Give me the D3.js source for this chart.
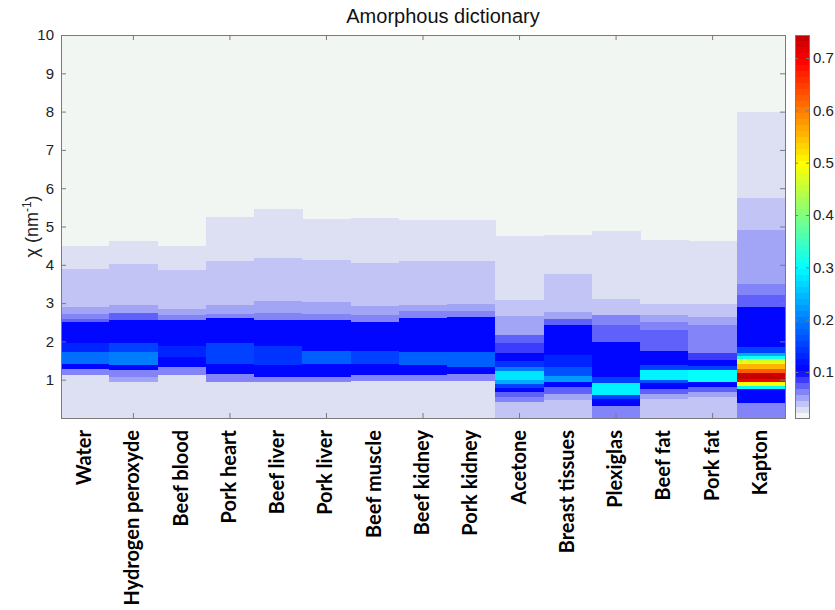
<!DOCTYPE html>
<html><head><meta charset="utf-8">
<script src="https://cdn.jsdelivr.net/npm/d3@7"></script>
<style>body{margin:0;background:#fff} svg{display:block}</style>
</head><body><svg id="c" width="835" height="610"></svg>
<script>
// ---------------- data ----------------
const materials = ["Water","Hydrogen peroxyde","Beef blood","Pork heart","Beef liver","Pork liver","Beef muscle","Beef kidney","Pork kidney","Acetone","Breast tissues","Plexiglas","Beef fat","Pork fat","Kapton"];
// band edges in chi (nm^-1), from 0 up to top of data, per material
const bandEdges = [
  [0,1.13,1.30,1.43,1.74,1.96,2.52,2.61,2.74,2.90,3.91,4.48],
  [0,0.95,1.09,1.26,1.39,1.74,1.96,2.56,2.76,2.97,4.04,4.63],
  [0,1.13,1.35,1.60,1.90,2.56,2.69,2.87,3.87,4.49],
  [0,0.95,1.17,1.43,1.96,2.63,2.74,2.97,4.10,5.26],
  [0,0.95,1.09,1.40,1.90,2.56,2.76,3.06,4.19,5.45],
  [0,0.95,1.09,1.43,1.77,2.56,2.74,3.04,4.13,5.19],
  [0,0.99,1.13,1.43,1.77,2.52,2.69,2.93,4.07,5.22],
  [0,0.99,1.13,1.39,1.74,2.63,2.80,2.97,4.11,5.17],
  [0,0.99,1.17,1.35,1.74,2.65,2.80,3.00,4.10,5.16],
  [0,0.42,0.56,0.69,0.80,0.91,1.00,1.25,1.35,1.50,1.70,1.96,2.19,2.67,3.09,4.74],
  [0,0.47,0.65,0.82,0.95,1.10,1.35,1.65,2.43,2.60,2.78,3.76,4.78],
  [0,0.33,0.50,0.61,0.92,1.09,2.00,2.43,2.69,3.13,4.87],
  [0,0.50,0.65,0.78,0.92,1.00,1.26,1.40,1.76,2.32,2.52,2.69,3.00,4.65],
  [0,0.56,0.69,0.82,0.95,1.26,1.38,1.52,1.71,2.43,2.65,3.00,4.62],
  [0,0.40,0.77,0.84,0.95,1.02,1.18,1.30,1.42,1.56,1.62,1.72,1.87,2.91,3.23,3.50,4.93,5.77,7.98]
];
// intensity of each band (between consecutive edges)
const bandValues = [
  [0.029,0.064,0.105,0.19,0.13,0.105,0.08,0.068,0.055,0.041,0.029],
  [0.029,0.052,0.064,0.105,0.20,0.15,0.105,0.07,0.052,0.041,0.029],
  [0.029,0.064,0.105,0.13,0.105,0.068,0.055,0.041,0.029],
  [0.029,0.064,0.105,0.16,0.105,0.068,0.055,0.041,0.029],
  [0.029,0.064,0.105,0.14,0.105,0.068,0.055,0.041,0.029],
  [0.029,0.064,0.105,0.18,0.105,0.068,0.055,0.041,0.029],
  [0.029,0.064,0.105,0.15,0.105,0.068,0.055,0.041,0.029],
  [0.029,0.064,0.105,0.18,0.105,0.068,0.055,0.041,0.029],
  [0.029,0.064,0.105,0.18,0.105,0.068,0.055,0.041,0.029],
  [0.041,0.064,0.08,0.105,0.15,0.24,0.28,0.20,0.14,0.105,0.086,0.075,0.052,0.041,0.029],
  [0.041,0.052,0.075,0.105,0.22,0.17,0.13,0.105,0.075,0.052,0.041,0.029],
  [0.06,0.105,0.16,0.29,0.15,0.105,0.075,0.06,0.041,0.029],
  [0.041,0.052,0.075,0.105,0.17,0.29,0.15,0.11,0.075,0.064,0.052,0.041,0.029],
  [0.041,0.052,0.075,0.105,0.30,0.15,0.105,0.086,0.064,0.052,0.041,0.029],
  [0.064,0.105,0.30,0.50,0.70,0.744,0.62,0.55,0.48,0.32,0.24,0.16,0.105,0.075,0.064,0.052,0.041,0.029]
];
const yTicks = [1,2,3,4,5,6,7,8,9,10];
const colorTicks = [0.1,0.2,0.3,0.4,0.5,0.6,0.7];
const colorDomain = [0.012, 0.744];
const chartTitle = "Amorphous dictionary";

// ---------------- layout ----------------
const svg = d3.select("#c");
const L = 61, R = 785, T = 35, B = 418;
const x = d3.scaleBand().domain(materials).range([L, R]).padding(0);
const y = d3.scaleLinear().domain([0, 10]).range([B, T]);

// colormap: white->blue for the lowest part, then jet
const NC = 64;
const [cmin, cmax] = colorDomain;
const jet = d3.scaleLinear().domain([0.1,0.2,0.3,0.4,0.5,0.6,0.7,0.8])
  .range(["#0000ff","#0080ff","#00ffff","#80ff80","#ffff00","#ff8000","#ff0000","#800000"]).clamp(true);
const lowInterp = d3.interpolateRgb("rgb(242,246,242)", "#0000ff");
function contColor(v) {
  if (v < 0.1) { const t = Math.pow(Math.max(0, (v - cmin) / (0.1 - cmin)), 1.2); return lowInterp(t); }
  return jet(v);
}
const palette = d3.range(NC).map(k => contColor(cmin + k * (cmax - cmin) / (NC - 1)));
function colorOf(v) {
  let k = Math.floor((v - cmin) / (cmax - cmin) * NC);
  k = Math.max(0, Math.min(NC - 1, k));
  return palette[k];
}

// background = lowest colour
svg.append("rect").attr("x", L).attr("y", T).attr("width", R - L).attr("height", B - T).attr("fill", palette[0]);

// bands
const cells = [];
materials.forEach((m, i) => {
  const e = bandEdges[i], v = bandValues[i];
  for (let j = 0; j < v.length; j++) cells.push({m, y0: e[j], y1: e[j + 1], v: v[j]});
});
svg.append("g").attr("shape-rendering", "crispEdges").selectAll("rect").data(cells).join("rect")
  .attr("x", d => x(d.m)).attr("width", x.bandwidth() + 0.5)
  .attr("y", d => y(d.y1)).attr("height", d => y(d.y0) - y(d.y1) + 0.5)
  .attr("fill", d => colorOf(d.v));

// axes
const axisColor = "#7a7a7a";
const tickFont = "Liberation Sans, Arial, sans-serif";
const oddTicks = materials.filter((d, i) => i % 2 === 1);
function styleAxis(g) {
  g.select(".domain").remove();
  g.selectAll(".tick line").attr("stroke", axisColor);
  g.selectAll("text").attr("font-family", tickFont).attr("font-size", 15).attr("fill", "#222");
}
svg.append("g").attr("transform", `translate(${L},0)`)
  .call(d3.axisLeft(y).tickValues(yTicks).tickSize(-5).tickPadding(7).tickFormat(d3.format("d"))).call(styleAxis);
svg.append("g").attr("transform", `translate(${R},0)`)
  .call(d3.axisRight(y).tickValues(yTicks).tickSize(-5).tickFormat("")).call(styleAxis);
svg.append("g").attr("transform", `translate(0,${T})`)
  .call(d3.axisTop(x).tickValues(oddTicks).tickSize(-5).tickFormat("")).call(styleAxis);
svg.append("g").attr("transform", `translate(0,${B})`)
  .call(d3.axisBottom(x).tickValues(oddTicks).tickSize(-5).tickFormat("")).call(styleAxis);
svg.append("rect").attr("x", L).attr("y", T).attr("width", R - L).attr("height", B - T)
  .attr("fill", "none").attr("stroke", axisColor).attr("shape-rendering", "crispEdges");

// x labels
svg.append("g").selectAll("text").data(materials).join("text")
  .attr("transform", d => `translate(${x(d) + x.bandwidth() / 2 + 6},430) rotate(-90)`)
  .attr("text-anchor", "end")
  .attr("font-family", "Lato, 'Open Sans', sans-serif").attr("font-weight", "bold").attr("font-size", 20)
  .attr("fill", "#000").text(d => d);

// y label
const yl = svg.append("text").attr("transform", `translate(38,${(T + B) / 2}) rotate(-90)`)
  .attr("text-anchor", "middle").attr("font-family", tickFont).attr("font-size", 18).attr("fill", "#222");
yl.append("tspan").text("χ (nm");
yl.append("tspan").attr("font-size", 12).attr("dy", -7).text("-1");
yl.append("tspan").attr("dy", 7).text(")");

// title
svg.append("text").attr("x", 443).attr("y", 23).attr("text-anchor", "middle")
  .attr("font-family", tickFont).attr("font-size", 20).attr("fill", "#111").text(chartTitle);

// colorbar
const CBL = 795, CBR = 809;
const cy = d3.scaleLinear().domain(colorDomain).range([B, T]);
const step = (cmax - cmin) / NC;
svg.append("g").attr("shape-rendering", "crispEdges").selectAll("rect").data(palette).join("rect")
  .attr("x", CBL).attr("width", CBR - CBL)
  .attr("y", (d, k) => cy(cmin + (k + 1) * step)).attr("height", (d, k) => cy(cmin + k * step) - cy(cmin + (k + 1) * step) + 0.5)
  .attr("fill", d => d);
svg.append("g").attr("transform", `translate(${CBR},0)`)
  .call(d3.axisRight(cy).tickValues(colorTicks).tickSize(-3).tickPadding(4).tickFormat(d3.format(".1f"))).call(styleAxis);
svg.append("g").attr("transform", `translate(${CBL},0)`)
  .call(d3.axisLeft(cy).tickValues(colorTicks).tickSize(-3).tickFormat("")).call(styleAxis);
svg.append("rect").attr("x", CBL).attr("y", T).attr("width", CBR - CBL).attr("height", B - T)
  .attr("fill", "none").attr("stroke", axisColor).attr("shape-rendering", "crispEdges");
</script></body></html>
